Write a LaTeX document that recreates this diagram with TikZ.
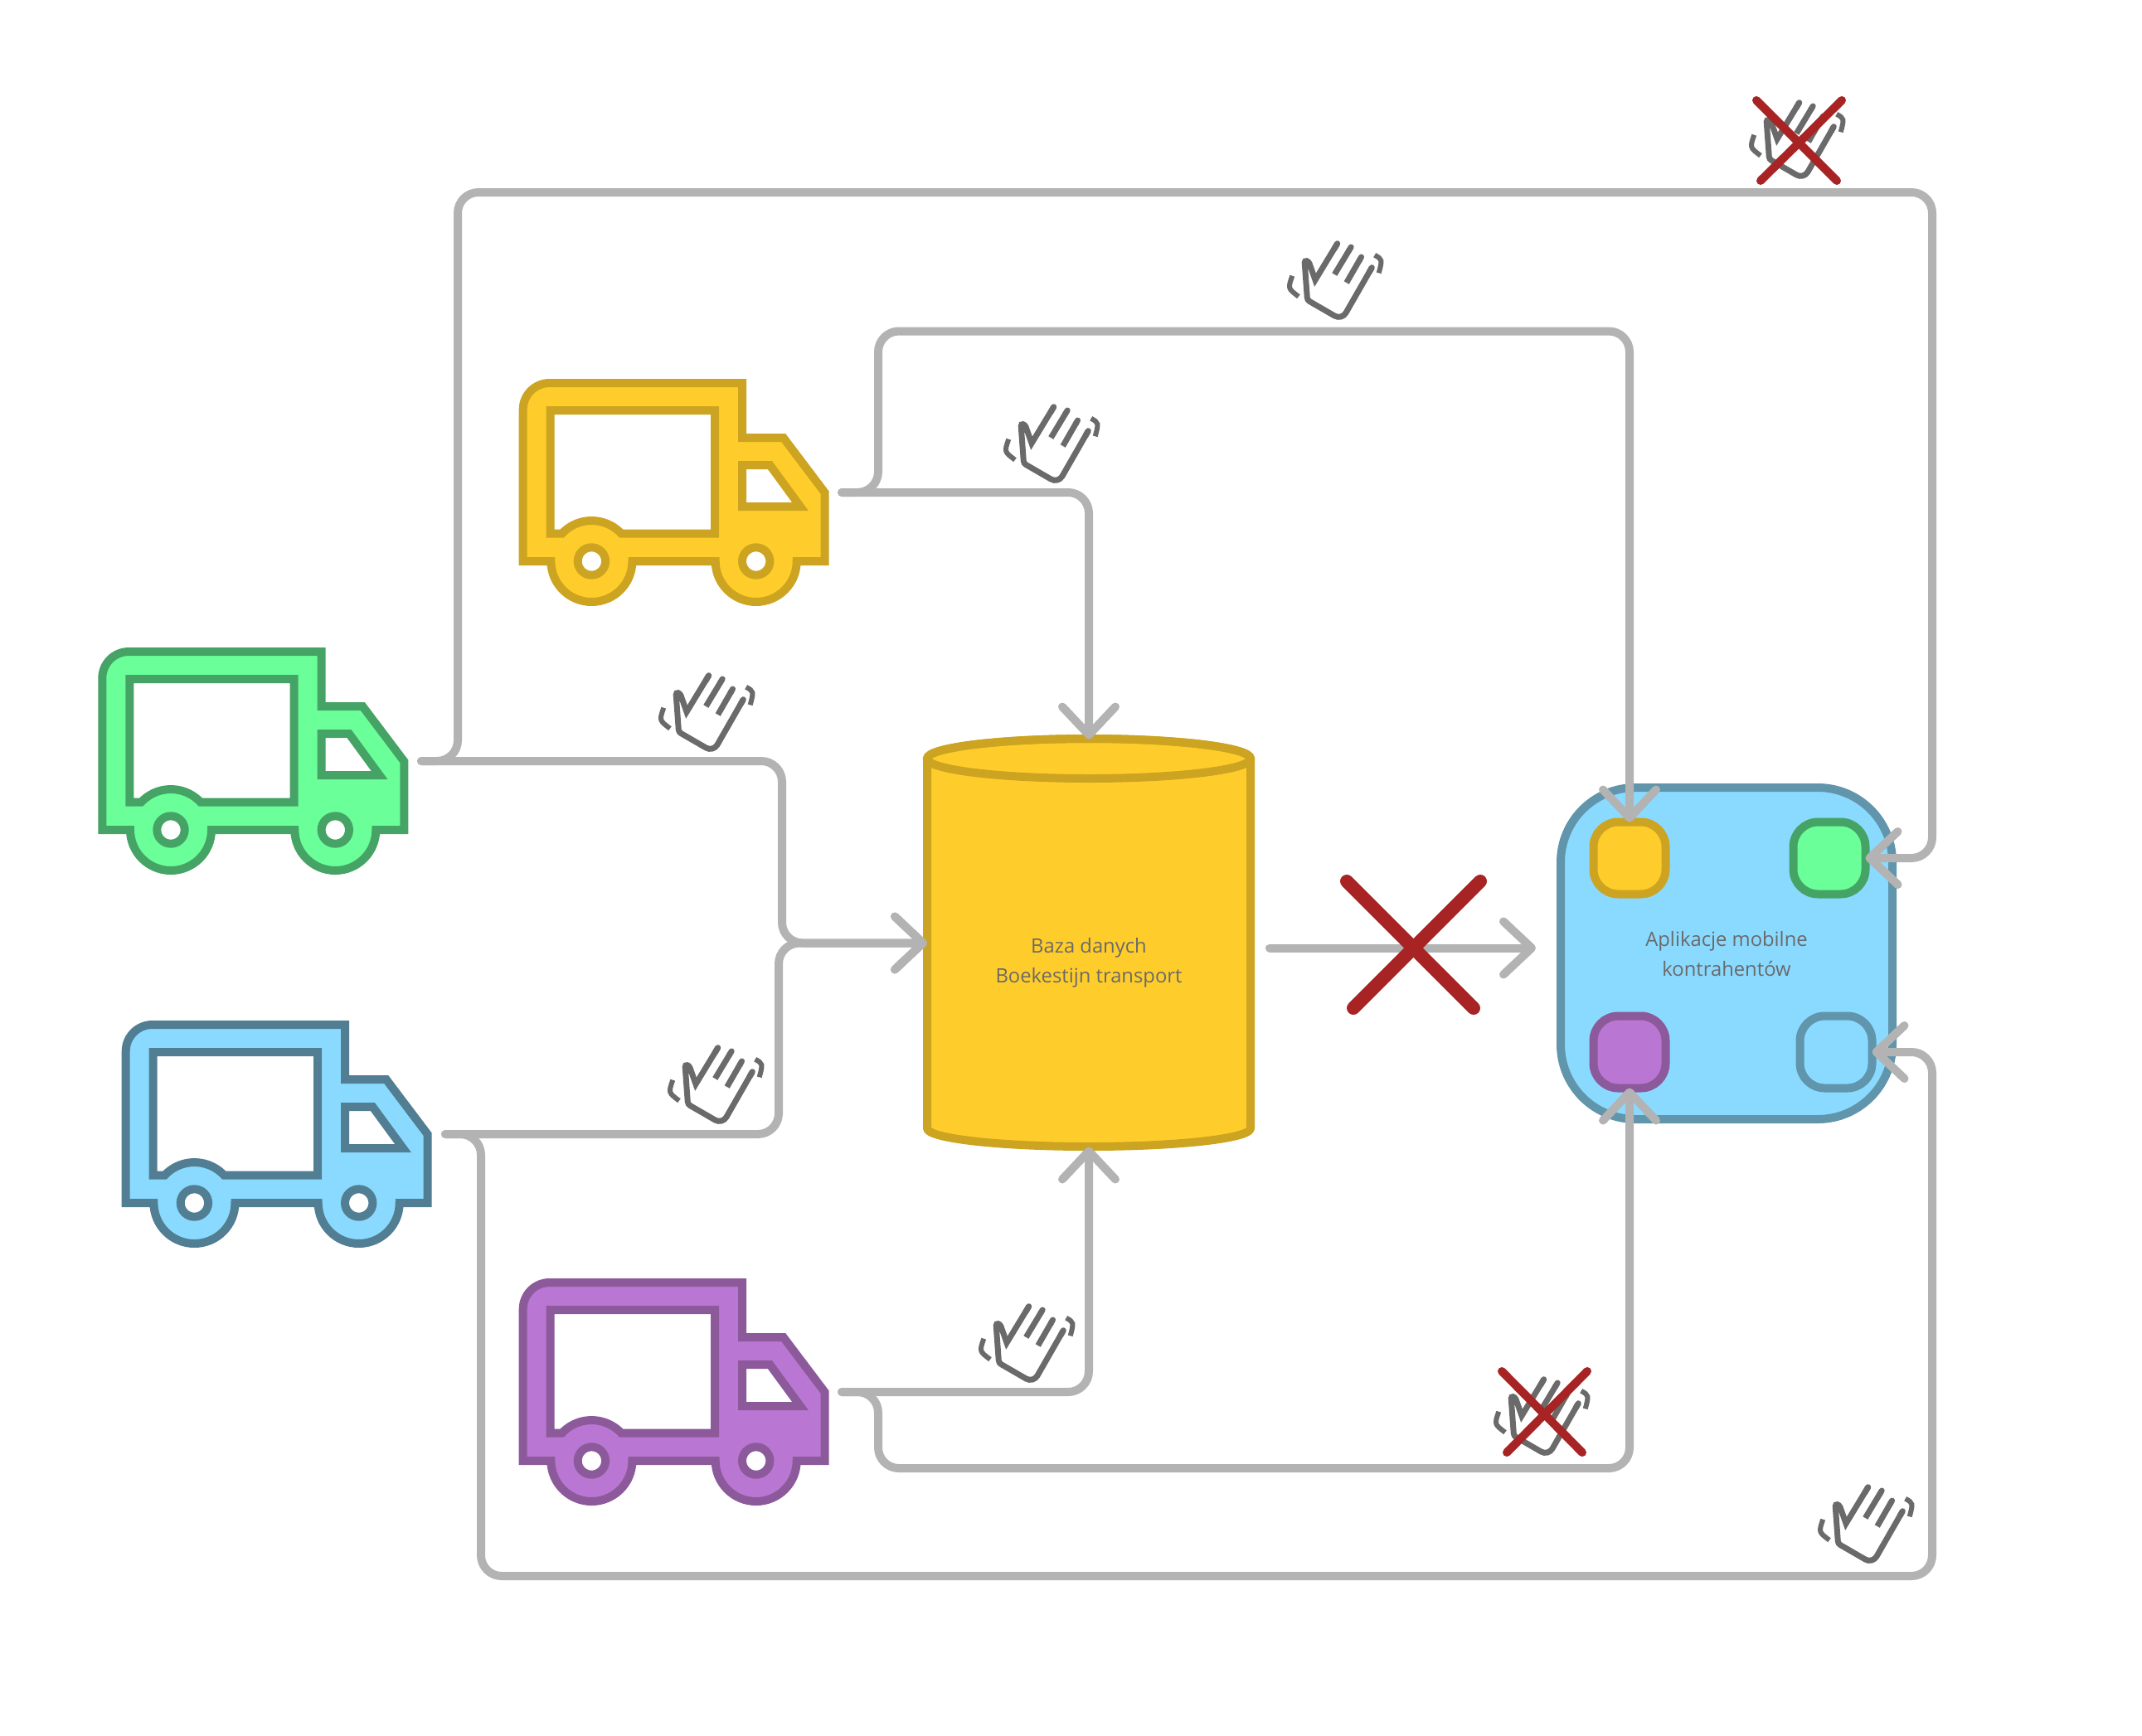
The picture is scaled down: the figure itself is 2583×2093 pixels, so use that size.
\documentclass[tikz,border=0pt]{standalone}
\usepackage{fontspec}
\setmainfont{Open Sans}
\usetikzlibrary{arrows.meta}
\definecolor{yellowfill}{HTML}{FFCD2B}
\definecolor{yellowline}{HTML}{CCA421}
\definecolor{greenfill}{HTML}{6BFF9A}
\definecolor{greenline}{HTML}{45A465}
\definecolor{bluefill}{HTML}{8ADAFF}
\definecolor{blueline}{HTML}{6095AB}
\definecolor{truckblueline}{HTML}{527E93}
\definecolor{purplefill}{HTML}{B976D2}
\definecolor{purpleline}{HTML}{8C5A9A}
\definecolor{connline}{HTML}{B3B3B3}
\definecolor{handline}{HTML}{6A6A6A}
\definecolor{crossline}{HTML}{A82424}
\tikzset{
    labeltext/.style={text=handline, font=\fontsize{11.9}{18}\selectfont, align=center, inner sep=0pt},
    slot/.style={draw=#1line, fill=#1fill, line width=5pt, minimum size=43.5pt, rounded corners=15pt, inner sep=0pt, outer sep=0pt},
    conn/.style={draw=connline, line width=5pt, line cap=round, rounded corners=12.5pt},
    arrowed/.style={conn, -{Straight Barb[length=17pt,width=32pt,round]}},
    crossbar/.style={draw=crossline, line width=5pt, line cap=round},
    pics/truck/.style 2 args={code={
        \draw[draw=#2, fill=#1, line width=5pt] (0,215) -- (0,32) arc[start angle=180, end angle=270, radius=32] -- (264.3,0) -- (264.3,66) -- (314,66) -- (364,132.3) -- (364,215) -- (330,215)
            arc[start angle=0, end angle=180, radius=49] -- (131.7,215) arc[start angle=0, end angle=180, radius=49] -- cycle;
        \draw[draw=#2, fill=white, line width=5pt] (33,33) -- (231.3,33) -- (231.3,181.7) -- (118.6,181.7) arc[start angle=317.1, end angle=222.9, radius=49] -- (33,181.7) -- cycle;
        \draw[draw=#2, fill=white, line width=5pt] (264.3,99) -- (297.7,99) -- (334.3,149) -- (264.3,149) -- cycle;
        \draw[draw=#2, fill=white, line width=5pt] (82.7,215) circle[radius=16.7];
        \draw[draw=#2, fill=white, line width=5pt] (281,215) circle[radius=16.7];
    }},
    pics/wavehand/.style={code={
        \draw[draw=handline, line width=3.5pt, miter limit=3] (113.3,41.7) [rounded corners=5pt] -- (77,105) [rounded corners=1.5pt] -- (35.5,81) -- (32,33) -- (37,34) [sharp corners] -- (45,56.7) -- (71.7,12.7);
        \draw[draw=handline, line width=3.5pt, line cap=round] (113.3,41.7) -- (110,47.5);
        \draw[draw=handline, line width=3.5pt, line cap=round] (71.7,12.7) -- (68,19.2);
        \draw[draw=handline, line width=3.5pt, -{Round Cap}] (68.3,50) -- (90,14);
        \draw[draw=handline, line width=3.5pt, -{Round Cap}] (82.7,60) -- (102.3,26);
        \draw[draw=handline, line width=3pt] (116.7,26.7) .. controls (126,32) .. (121.7,48.3);
        \draw[draw=handline, line width=3pt] (17.3,51.7) .. controls (12,67) .. (25,76.7);
    }}
}
\begin{document}
\begin{tikzpicture}[x=.5pt, y=-.5pt]
    \useasboundingbox (0,0) rectangle (2583,2093);

    \pic at (123.3,786) {truck={greenfill}{greenline}};
    \pic at (630.7,462) {truck={yellowfill}{yellowline}};
    \pic at (151.7,1236) {truck={bluefill}{truckblueline}};
    \pic at (630.7,1547) {truck={purplefill}{purpleline}};

    \draw[draw=yellowline, fill=yellowfill, line width=5pt, line join=round] (1118,915) -- (1118,1361) arc[x radius=195, y radius=22, start angle=180, end angle=0] -- (1508,915) arc[x radius=195, y radius=24, start angle=0, end angle=-180] -- cycle;
    \draw[draw=yellowline, line width=5pt] (1313,915) ellipse[x radius=195, y radius=24];
    \node[minimum width=195pt, minimum height=246pt, inner sep=0pt, outer sep=0pt] (db) at (1313,1137.5) {};
    \node[labeltext] (dblabel) at (1313,1161) {Baza danych\\Boekestijn transport};

    \node[draw=blueline, fill=bluefill, line width=5pt, minimum size=200pt, rounded corners=45pt, outer sep=0pt, inner sep=0pt] (apps) at (2082,1150) {};
    \node[labeltext] (appslabel) at (2082,1151) {Aplikacje mobilne\\kontrahentów};
    \node[slot=yellow] (slotyellow) at (1965,1035) {};
    \node[slot=green] (slotgreen) at (2206,1035) {};
    \node[slot=purple] (slotpurple) at (1965,1269) {};
    \node[slot=blue] (slotblue) at (2214,1269) {};

    \coordinate (greenout) at (508,918);
    \coordinate (yellowout) at (1015,594);
    \coordinate (blueout) at (537,1368);
    \coordinate (purpleout) at (1015,1679);
    \coordinate (dbout) at (1531,1143.5);
    \coordinate (dbend) at (1852,1143.5);

    \draw[arrowed] (greenout) -- (943,918) -- (943,1137.5) -- (db.west);
    \draw[arrowed] (blueout) -- (939,1368) -- (939,1137.5) -- (db.west);
    \draw[arrowed] (yellowout) -| (db.north);
    \draw[arrowed] (purpleout) -| (db.south);
    \draw[arrowed] (yellowout) -- (1059,594) -- (1059,399.5) -- (1965,399.5) -- (slotyellow.north);
    \draw[arrowed] (greenout) -- (552,918) -- (552,232) -- (2330,232) -- (2330,1035) -- (slotgreen.east);
    \draw[arrowed] (purpleout) -- (1059,1679) -- (1059,1771) -- (1965,1771) -- (slotpurple.south);
    \draw[arrowed] (blueout) -- (580,1368) -- (580,1901) -- (2330,1901) -- (2330,1269) -- (slotblue.east);
    \draw[arrowed] (dbout) -- (dbend);

    \pic at (1541,281) {wavehand};
    \pic at (1199,478) {wavehand};
    \pic at (783,802) {wavehand};
    \pic at (794,1251) {wavehand};
    \pic at (1169,1563) {wavehand};
    \pic at (2181,1781) {wavehand};
    \pic at (2098,111) {wavehand};
    \pic at (1790,1651) {wavehand};

    \draw[crossbar] (2118,121) -- (2215,218);
    \draw[crossbar] (2221,121) -- (2123,218);
    \draw[crossbar] (1811,1654) -- (1908,1752);
    \draw[crossbar] (1914,1654) -- (1817,1752);
    \draw[crossbar, line width=8pt] (1624,1063) -- (1777,1216);
    \draw[crossbar, line width=8pt] (1785,1063) -- (1632,1216);
\end{tikzpicture}
\end{document}
